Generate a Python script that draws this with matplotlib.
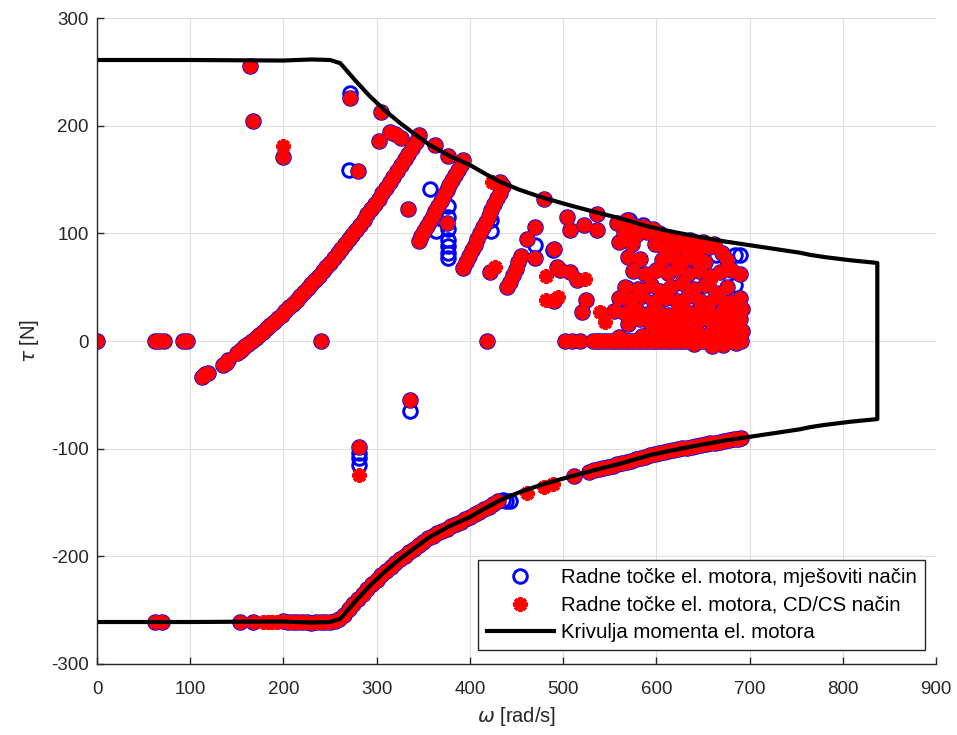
import numpy as np
import matplotlib
matplotlib.use("Agg")
import matplotlib.pyplot as plt

plt.rcParams['font.family'] = ['Liberation Sans', 'DejaVu Sans']
plt.rcParams['mathtext.fontset'] = 'dejavusans'
plt.rcParams['axes.unicode_minus'] = False

# --- granicna krivulja momenta (gornja polovica, donja je zrcalna) ---
crv_w = [0, 100, 200, 230, 250, 261, 277, 293, 309, 325, 341, 357, 378, 400, 416, 432,
         453, 475, 497, 518, 540, 561, 577, 593, 620, 647, 673, 700, 727, 754, 765, 780,
         808, 837]
crv_t = [261, 261, 260.5, 261.5, 261, 258, 242, 227, 214, 202.5, 192, 182, 172, 163.5,
         155.5, 148, 140.5, 134, 128.5, 123.5, 118.5, 114, 110, 106, 101, 96.5, 92.5, 89,
         85.5, 82, 80, 78, 75, 72.5]

# --- radne tocke (zajednicke za oba nacina) ---
zero_w = [0, 62, 67, 72, 92, 97, 240, 418, 502, 510, 518,
          532, 536, 540, 544, 548, 552, 556, 560, 564, 568, 572, 576, 580, 584, 588, 592,
          596, 600, 604, 608, 612, 616, 620, 624, 628, 632, 636, 640, 644, 648, 652, 656,
          660, 664, 668, 672, 676, 680, 684, 688, 691]
zero_t = [0] * len(zero_w)

band1_w = [113, 116, 119, 135, 138, 141, 150, 153, 156, 159, 162, 166, 170, 174, 178, 182,
           186, 190, 194, 198, 202, 206, 210, 214, 218, 222, 226, 230, 234, 238, 242, 246,
           250, 254, 258, 262, 266, 270, 274, 278, 282, 286, 290, 294, 298, 302, 306, 310,
           314, 318, 322, 326, 330, 334, 338, 342, 345]
band1_t = [-33, -31, -30, -22, -20, -18, -11, -9, -7, -5, -3, 0, 2.8, 5.7, 8.7, 11.7,
           14.8, 18.0, 21.2, 24.5, 27.8, 31.2, 34.7, 38.2, 41.8, 45.5, 49.2, 53.0, 56.9,
           60.8, 64.8, 68.8, 72.9, 77.1, 81.3, 85.6, 90.0, 94.4, 98.9, 103.5, 108.1, 112.8,
           117.6, 122.4, 127.3, 132.2, 137.2, 142.3, 147.4, 152.6, 157.9, 163.2, 168.6,
           174.1, 179.6, 185.2, 191]

band2_w = [345, 348, 351, 354, 357, 360, 363, 366, 369, 372, 375, 378, 381, 384, 387, 390, 393]
band2_t = [93, 97.7, 102.4, 107.1, 111.8, 116.4, 121.1, 125.8, 130.5, 135.2, 139.9, 144.6,
           149.3, 154.0, 158.7, 163.3, 168]

band3_w = [393, 396, 399, 402, 405, 408, 411, 414, 417, 420, 423, 426, 429, 432, 435]
band3_t = [68, 73.4, 78.7, 84.1, 89.4, 94.8, 100.2, 105.5, 110.9, 116.3, 121.6, 127,
           132.4, 137.7, 144]

band4_w = [440, 443, 446, 449, 452, 455]
band4_t = [50, 55, 61, 67, 73, 79]

scat_w = [164, 167, 200, 271, 280, 305, 302, 314, 320, 326, 362, 377, 334, 375, 421, 432,
          461, 470, 470, 479, 490, 493, 490, 497, 507, 515, 504, 507, 522, 536, 536, 520,
          524, 336, 281]
scat_t = [255, 204, 171, 226, 158, 213, 186, 194, 192, 189, 182, 172, 123, 110, 64, 148,
          95, 106, 77, 132, 85, 69, 37, 66, 64, 57, 115, 103, 108, 118, 103, 27, 38, -55, -98]

clus_w = [558, 568, 575, 586, 596,
          565, 578, 590, 603, 612, 622, 636, 650, 662,
          560, 574, 598, 608, 620, 632, 645, 656, 670,
          570, 582, 606, 618, 628, 640, 652, 676,
          575, 588, 600, 612, 622, 634, 646, 658, 668, 680, 690,
          566, 580, 594, 604, 616, 628, 640, 652, 664, 676,
          560, 572, 585, 597, 610, 622, 634, 646, 656, 668, 680, 690,
          555, 566, 578, 590, 602, 612, 624, 636, 648, 660, 672, 684, 692,
          575, 598, 620, 645, 668, 690,
          570, 582, 594, 606, 618, 630, 642, 654, 665, 676, 688,
          600, 612, 624, 636, 648, 660, 670, 682, 692,
          560, 585, 610, 635, 660, 680,
          640, 660, 672, 685]
clus_t = [110, 112, 108, 107, 104,
          100, 98, 101, 100, 97, 95, 94, 92, 90,
          92, 90, 90, 86, 88, 85, 84, 87, 82,
          78, 76, 75, 78, 74, 76, 73, 75,
          65, 62, 66, 63, 67, 62, 65, 60, 64, 66, 62,
          50, 48, 52, 46, 50, 54, 48, 52, 45, 50,
          40, 38, 42, 36, 40, 37, 42, 38, 35, 40, 36, 40,
          28, 26, 30, 25, 28, 24, 30, 26, 28, 24, 29, 25, 30,
          22, 22, 22, 22, 22, 20,
          16, 20, 15, 18, 14, 19, 16, 20, 14, 18, 16,
          8, 10, 7, 9, 6, 10, 8, 11, 9,
          4, 5, 3, 4, 3, 4,
          -3, -5, -4, -2]

low_w = [62, 70, 153, 167, 200, 205, 210, 215, 220, 225, 230, 235, 240, 245, 250, 255, 260,
         265, 270, 275, 280, 285, 290, 295, 300, 305, 310, 315, 320, 325, 330, 335, 340,
         345, 350, 355, 360, 365, 370, 375, 380, 385, 390, 395, 400, 405, 410, 415, 420,
         425, 430, 512, 528, 533, 538, 543, 548, 553, 558, 563, 568, 573, 578, 583, 588,
         593, 598, 603, 608, 613, 618, 623, 628, 633, 638, 643, 648, 653, 658, 663, 668,
         673, 678, 683, 688, 691]
low_t = [-261, -261, -261, -261, -260.5, -260.6, -260.8, -261, -261.2, -261.4, -261.5,
         -261.4, -261.3, -261.1, -261, -259.7, -258.3, -254.1, -249.3, -244.4, -239.6,
         -234.8, -229.9, -225.5, -221.6, -217.8, -214, -210.2, -206.3, -202.5, -199.3,
         -196.1, -192.9, -189.7, -186.5, -183.3, -180.7, -178.6, -176.4, -174.3, -172.1,
         -170, -167.8, -165.7, -163.5, -161.1, -158.7, -156.3, -153.8, -151.4, -149,
         -125, -121.3, -120.2, -119.1, -118, -116.9, -115.8, -114.7, -113.5, -112.3, -111,
         -109.8, -108.5, -107.3, -106, -105.1, -104.2, -103.4, -102.5, -101.6, -100.7,
         -99.8, -99, -98.1, -97.2, -96.4, -95.7, -95, -94.3, -93.5, -92.8, -92.1, -91.4,
         -90.7, -90.3]

# samo mjesoviti nacin
bonly_w = [271, 270, 357, 364, 377, 377, 377, 377, 377, 377, 377, 423, 423, 470, 489, 609,
           664, 684, 690, 571, 586, 684, 568, 630, 645, 435, 439, 443, 336, 281, 281, 281]
bonly_t = [230, 159, 141, 102.5, 125, 115, 104, 94, 88, 82, 77, 102, 112, 89, 84.5, 92,
           80, 80, 80, 112, 108, 52, 49, 80, 70, -148, -149, -148.5, -65, -104, -109, -115]

# samo CD/CS nacin
ronly_w = [200, 424, 427, 482, 482, 495, 523, 540, 545, 600, 615, 178, 183, 188, 193, 461,
           479, 489, 281, 657, 630]
ronly_t = [181, 148, 69, 60, 38, 41, 58, 27, 18, 65, 50, -261, -261, -261, -261, -141.5,
           -135.5, -132.5, -124, 57, 30]

common_w = zero_w + band1_w + band2_w + band3_w + band4_w + scat_w + clus_w + low_w
common_t = zero_t + band1_t + band2_t + band3_t + band4_t + scat_t + clus_t + low_t

mix_w = common_w + bonly_w
mix_t = common_t + bonly_t
cd_w = common_w + ronly_w
cd_t = common_t + ronly_t

curve_w = crv_w + crv_w[::-1]
curve_t = crv_t + [-t for t in crv_t[::-1]]

# --- crtanje ---
fig = plt.figure(figsize=(9.57, 7.35), dpi=100)
ax = fig.add_axes([0.1014, 0.0966, 0.8767, 0.8789])

txt = '#262626'
ax.plot(mix_w, mix_t, 'o', mfc='none', mec='#0000ff', ms=9.8, mew=2.1,
        label='Radne točke el. motora, mješoviti način')
ax.plot(cd_w, cd_t, ls='none', marker=(8, 2, 0), color='#ff0000', mec='#ff0000',
        ms=10.5, mew=2.8, label='Radne točke el. motora, CD/CS način')
ax.plot(curve_w, curve_t, '-', color='k', lw=3, label='Krivulja momenta el. motora')

ax.set_xlim(0, 900)
ax.set_ylim(-300, 300)
ax.set_xticks(np.arange(0, 901, 100))
ax.set_yticks(np.arange(-300, 301, 100))
ax.grid(True, color='#dfdfdf', lw=0.8)
ax.set_axisbelow(True)
for s in ['top', 'right']:
    ax.spines[s].set_visible(False)
for s in ['left', 'bottom']:
    ax.spines[s].set_color(txt)
    ax.spines[s].set_linewidth(1.0)
ax.tick_params(direction='in', length=5, width=1, colors=txt, labelsize=13.5, pad=6)
ax.tick_params(axis='x', pad=12)

ax.set_xlabel(r'$\omega$ [rad/s]', fontsize=14.5, color=txt, labelpad=5)
ax.set_ylabel(r'$\tau$ [N]', fontsize=14.5, color=txt, labelpad=7)

leg = ax.legend(loc='lower right', bbox_to_anchor=(0.987, 0.0217), borderaxespad=0,
                fontsize=14.7, fancybox=False, framealpha=1, edgecolor=txt,
                handlelength=3.3, handletextpad=0.35, labelspacing=0.4,
                borderpad=0.4)
leg.get_frame().set_linewidth(1.0)

fig.savefig('out.png', dpi=100)
